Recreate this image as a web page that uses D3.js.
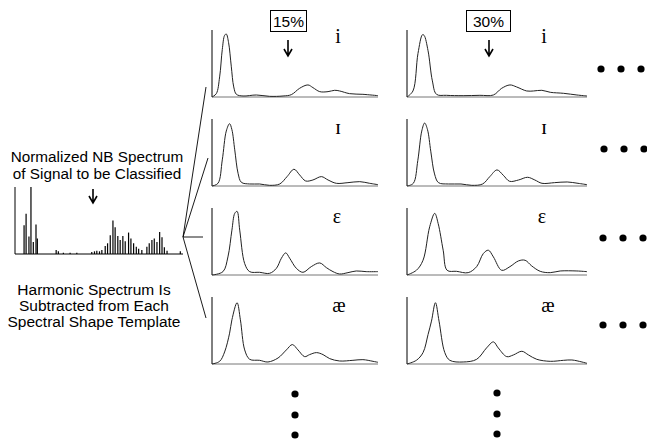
<!DOCTYPE html>
<html>
<head>
<meta charset="utf-8">
<script src="https://cdn.jsdelivr.net/npm/d3@7"></script>
<style>
  body { margin: 0; background: #fff; }
  svg { display: block; }
</style>
</head>
<body>
<script>
// harmonic (narrow band) spectrum: bar positions (0-100) and heights (0-1)
var harmPos = [5.4, 6.6, 8.3, 9.5, 10.9, 12.5, 13.3, 24.5, 25.8, 28.8, 32.8, 36.8,
  45.7, 47.3, 48.7, 50.3, 51.7, 53.7, 55.1, 56.7, 58.3, 59.6, 61.2, 62.6, 64.2, 65.6,
  67.6, 69.0, 70.6, 72.2, 73.6, 75.5, 78.5, 79.9, 81.5, 82.9, 84.5, 86.1, 87.5, 88.9,
  90.5, 98.4];
var harmAmp = [0.43, 0.60, 0.26, 1.0, 0.18, 0.44, 0.23, 0.06, 0.04, 0.02, 0.02, 0.02,
  0.03, 0.04, 0.05, 0.04, 0.06, 0.12, 0.16, 0.28, 0.50, 0.40, 0.27, 0.21, 0.27, 0.19,
  0.32, 0.23, 0.16, 0.11, 0.08, 0.06, 0.11, 0.16, 0.21, 0.23, 0.18, 0.33, 0.25, 0.10,
  0.05, 0.04];

// template shapes, [x, y] pairs
var tplI15 = [[0,0],[2.6,0.05],[4.6,0.30],[6.2,0.71],[7.6,0.92],[8.6,0.94],[10.0,0.81],
  [11.6,0.46],[13.1,0.15],[14.7,0.04],[18.7,0.015],[26.7,0.03],[34.7,0.01],[42.8,0.015],
  [47.8,0.035],[52.8,0.13],[57.8,0.18],[60.8,0.14],[64.9,0.08],[69.9,0.08],[73.9,0.10],
  [76.9,0.09],[82.9,0.05],[90.9,0.04],[100,0.02]];
var tplI30 = [[0,0],[3.3,0.09],[6.1,0.65],[8.6,0.93],[9.5,0.92],[11.7,0.69],[14.1,0.24],
  [16.4,0.04],[21.9,0.025],[31.2,0.02],[40.5,0.025],[48.0,0.03],[52.6,0.13],[57.2,0.18],
  [60.9,0.15],[66.5,0.09],[70.3,0.09],[74.9,0.10],[79.6,0.07],[87.0,0.055],[94.4,0.03],
  [100,0.015]];
var tplIh15 = [[0,0],[3.6,0.04],[6.2,0.39],[8.6,0.82],[10.6,0.93],[12.0,0.84],[13.7,0.54],
  [15.7,0.19],[17.7,0.055],[22.7,0.03],[28.7,0.03],[34.7,0.01],[40.8,0.03],[45.2,0.14],
  [49.4,0.25],[52.8,0.165],[56.4,0.075],[60.8,0.09],[65.9,0.14],[69.9,0.09],[74.9,0.04],
  [81.9,0.05],[89.0,0.065],[95.0,0.04],[100,0.02]];
var tplIh30 = [[0,0],[3.5,0.04],[6.0,0.38],[8.2,0.82],[9.8,0.94],[11.4,0.84],[13.2,0.52],
  [15.3,0.18],[17.5,0.05],[23,0.03],[30,0.03],[36,0.01],[42,0.03],[46,0.14],[50,0.24],
  [53.5,0.16],[57,0.07],[62,0.09],[67,0.13],[71,0.09],[75,0.04],[82,0.05],[89,0.06],
  [95,0.04],[100,0.02]];
var tplE15 = [[0,0],[6.6,0.05],[9.6,0.27],[12.0,0.67],[13.7,0.92],[15.1,0.95],[16.7,0.67],
  [19.7,0.17],[22.7,0.05],[28.7,0.04],[34.7,0.025],[38.8,0.10],[41.8,0.25],[44.4,0.33],
  [46.8,0.25],[50.8,0.10],[54.8,0.04],[59.8,0.125],[64.9,0.18],[68.9,0.11],[72.9,0.05],
  [76.9,0.015],[81.9,0.035],[86.9,0.06],[92.9,0.05],[100,0.05]];
var tplE30 = [[0,0],[5.2,0.07],[8.9,0.22],[12.6,0.72],[15.4,0.92],[17.3,0.77],[20.1,0.37],
  [22.3,0.07],[27.5,0.055],[34.0,0.035],[38.7,0.125],[42.4,0.32],[45.2,0.37],[48.0,0.27],
  [52.6,0.07],[57.2,0.125],[61.9,0.21],[65.6,0.22],[69.3,0.135],[74.0,0.055],[79.6,0.035],
  [85.1,0.06],[94.4,0.06],[100,0.05]];
var tplAe15 = [[0,0],[4.6,0.04],[7.6,0.18],[10.6,0.46],[12.0,0.66],[15.1,0.915],[17.1,0.66],
  [19.7,0.21],[22.7,0.07],[28.7,0.055],[33.7,0.03],[39.8,0.09],[44.8,0.21],[48.4,0.29],
  [51.8,0.21],[55.8,0.11],[58.8,0.14],[62.9,0.17],[66.9,0.14],[70.9,0.08],[76.9,0.045],
  [84.9,0.055],[90.9,0.065],[97.0,0.04],[100,0.025]];
var tplAe30 = [[0,0],[5.2,0.055],[8.9,0.17],[11.7,0.44],[13.6,0.64],[15.8,0.915],[17.8,0.64],
  [21.0,0.17],[23.8,0.055],[31.2,0.03],[38.7,0.07],[44.2,0.24],[48.0,0.33],[50.7,0.24],
  [55.4,0.11],[59.1,0.135],[63.8,0.19],[67.5,0.135],[72.1,0.07],[79.6,0.04],[87.0,0.055],
  [91.6,0.06],[97.2,0.03],[100,0.01]];

var vowels = ['i', 'ɪ', 'ε', 'æ'];
var levels = ['15%', '30%'];
var templates = [[tplI15, tplI30], [tplIh15, tplIh30], [tplE15, tplE30], [tplAe15, tplAe30]];

var width = 647, height = 442;
var svg = d3.select('body').append('svg')
  .attr('width', width)
  .attr('height', height);

var sans = 'Liberation Sans, Arial, sans-serif';
var serif = 'Liberation Serif, DejaVu Serif, Times New Roman, serif';

function arrowDown(x, y0, y1) {
  svg.append('path')
    .attr('d', 'M' + x + ',' + y0 + 'V' + y1 + 'M' + (x - 4) + ',' + (y1 - 7) + 'L' + x + ',' + y1 + 'L' + (x + 4) + ',' + (y1 - 7))
    .attr('fill', 'none')
    .attr('stroke', '#000')
    .attr('stroke-width', 1.6);
}

// ---- left side: harmonic spectrum ----
var hx = d3.scaleLinear().domain([0, 100]).range([15, 183]);
var hy = d3.scaleLinear().domain([0, 1]).range([254, 187]);

svg.append('text')
  .attr('x', 97).attr('y', 162)
  .attr('text-anchor', 'middle')
  .attr('font-family', sans).attr('font-size', '15.3px')
  .text('Normalized NB Spectrum');
svg.append('text')
  .attr('x', 97).attr('y', 179)
  .attr('text-anchor', 'middle')
  .attr('font-family', sans).attr('font-size', '15.3px')
  .text('of Signal to be Classified');
arrowDown(93, 189, 203);

svg.selectAll('line.harm')
  .data(harmPos)
  .enter()
  .append('line')
  .attr('class', 'harm')
  .attr('x1', function (d) { return hx(d); })
  .attr('x2', function (d) { return hx(d); })
  .attr('y1', hy(0))
  .attr('y2', function (d, i) { return hy(harmAmp[i]); })
  .attr('stroke', '#000')
  .attr('stroke-width', 1.2);

svg.append('line')
  .attr('x1', hx(0)).attr('x2', hx(0))
  .attr('y1', hy(0)).attr('y2', hy(1))
  .attr('stroke', '#000');
svg.append('line')
  .attr('x1', hx(0)).attr('x2', hx(100))
  .attr('y1', hy(0)).attr('y2', hy(0))
  .attr('stroke', '#000');

['Harmonic Spectrum Is', 'Subtracted from Each', 'Spectral Shape Template'].forEach(function (t, i) {
  svg.append('text')
    .attr('x', 94).attr('y', 295 + i * 16)
    .attr('text-anchor', 'middle')
    .attr('font-family', sans).attr('font-size', '15.5px')
    .text(t);
});

// fan of lines to the template rows
var fanEnds = [[206, 87], [208, 158], [203, 237], [206, 318]];
fanEnds.forEach(function (e) {
  svg.append('line')
    .attr('x1', 183).attr('y1', 237)
    .attr('x2', e[0]).attr('y2', e[1])
    .attr('stroke', '#000')
    .attr('stroke-width', 0.9);
});

// ---- template panels ----
var colRanges = [[212, 378], [407, 587]];
var rowTops = [30, 119, 208, 297];
var panelH = 67;
var letterX = [[338, 544], [338, 544], [337, 542], [339, 548]];

var line = d3.line()
  .x(function (d) { return d[0]; })
  .y(function (d) { return d[1]; })
  .curve(d3.curveCatmullRom.alpha(0.5));

rowTops.forEach(function (top, r) {
  colRanges.forEach(function (cr, c) {
    var x = d3.scaleLinear().domain([0, 100]).range(cr);
    var y = d3.scaleLinear().domain([0, 1]).range([top + panelH, top]);
    var g = svg.append('g');

    g.append('line')
      .attr('x1', x(0)).attr('x2', x(100))
      .attr('y1', y(0)).attr('y2', y(0))
      .attr('stroke', '#777');
    g.append('line')
      .attr('x1', x(0)).attr('x2', x(0))
      .attr('y1', y(0)).attr('y2', y(1))
      .attr('stroke', '#000');

    g.append('path')
      .datum(templates[r][c].map(function (p) { return [x(p[0]), y(p[1])]; }))
      .attr('fill', 'none')
      .attr('stroke', '#222')
      .attr('stroke-width', 1)
      .attr('d', line);

    g.append('text')
      .attr('x', letterX[r][c]).attr('y', top + (r === 0 ? 13 : 15))
      .attr('text-anchor', 'middle')
      .attr('font-family', serif)
      .attr('font-size', r === 1 ? '22px' : '20px')
      .text(vowels[r]);
  });
});

// percentage boxes with arrows
var boxes = [{x: 270, w: 36, ax: 288}, {x: 466, w: 44, ax: 489}];
levels.forEach(function (lv, i) {
  var b = boxes[i];
  svg.append('rect')
    .attr('x', b.x + 0.5).attr('y', 10.5)
    .attr('width', b.w).attr('height', 21)
    .attr('fill', '#fff')
    .attr('stroke', '#000');
  svg.append('text')
    .attr('x', b.x + b.w / 2 + 0.5).attr('y', 26.5)
    .attr('text-anchor', 'middle')
    .attr('font-family', sans).attr('font-size', '15.5px')
    .text(lv);
  arrowDown(b.ax, 40, 56);
});

// continuation dots
var rightDots = [[69, 601], [149, 604], [238, 603], [325, 603]];
rightDots.forEach(function (d) {
  [0, 20, 40].forEach(function (dx) {
    svg.append('circle')
      .attr('cx', d[1] + dx).attr('cy', d[0])
      .attr('r', 3.6).attr('fill', '#000');
  });
});
[[295, 394], [497, 393]].forEach(function (d) {
  [0, 21, 41].forEach(function (dy) {
    svg.append('circle')
      .attr('cx', d[0]).attr('cy', d[1] + dy)
      .attr('r', 3.6).attr('fill', '#000');
  });
});
</script>
</body>
</html>
